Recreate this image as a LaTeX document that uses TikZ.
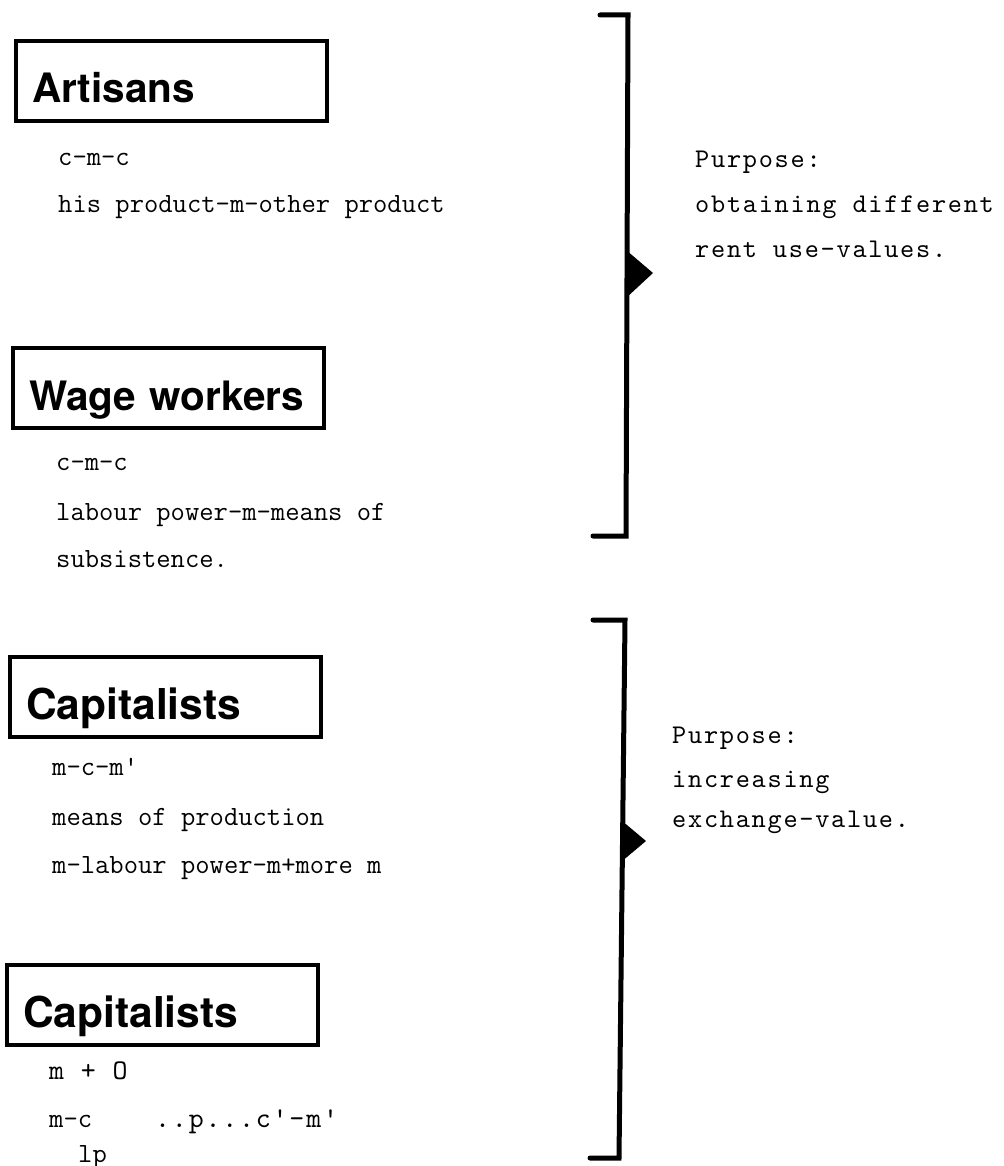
\documentclass[tikz,border=0pt]{standalone}
\usepackage{fontspec}
\usepackage{tikz}
\newfontfamily\headfont{TeX Gyre Heros}
\newfontfamily\widett{lmmono10-regular.otf}[LetterSpace=6.4]

\begin{document}
\begin{tikzpicture}[
  x=1pt, y=-1pt,
  headbox/.style={draw, line width=3.2pt, anchor=north west, outer sep=0pt,
    inner xsep=16pt, inner ysep=0pt, text width=279pt, align=left,
    text height=62pt, text depth=18pt,
    font=\headfont\bfseries\fontsize{40.5}{48}\selectfont},
  bighead/.style={font=\headfont\bfseries\fontsize{42.5}{50}\selectfont},
  body/.style={anchor=base west, inner sep=0pt,
    font=\ttfamily\fontsize{27.8}{34}\selectfont},
  widebody/.style={body, font=\widett\fontsize{28.5}{34}\selectfont},
  purpose/.style={anchor=base west, inner sep=0pt,
    font=\widett\fontsize{27}{34}\selectfont},
  bracket/.style={line width=5pt, line cap=round, line join=miter},
  pointer/.style={fill=black}
]
\useasboundingbox (0,0) rectangle (1003,1166);

% the four groups
\node[headbox] (artisans) at (16,41) {Artisans};
\node[headbox] (wage) at (13,348) {Wage workers};
\node[headbox, bighead] (capa) at (10,657) {Capitalists};
\node[headbox, bighead] (capb) at (7,965) {Capitalists};

\foreach \y/\t [count=\i] in {166/c-m-c, 213/his product-m-other product}
  \node[body] (art\i) at (58,\y) {\t};
\foreach \y/\t [count=\i] in {470/c-m-c, 520/labour power-m-means of, 567/subsistence.}
  \node[body] (wag\i) at (56,\y) {\t};
\foreach \y/\t [count=\i] in {775/m-c-m', 825/means of production, 873/m-labour power-m+more m}
  \node[body] (cpa\i) at (52,\y) {\t};

\node[widebody] (cpb1) at (49,1079) {m + O};
\node[body] (cpb2) at (49,1127) {m-c};
\node[widebody] (cpb3) at (155,1127) {..p...c'-m'};
\node[body] (cpb4) at (78,1162) {lp};

% brackets and what they point to
\draw[bracket] (600,15) -- (628,15) -- (626,536) -- (593,536);
\fill[pointer] (626,250) -- (653,273) -- (626,298) -- cycle;
\foreach \y/\t [count=\i] in {168/Purpose:, 213/obtaining different, 258/rent use-values.}
  \node[purpose] (use\i) at (695,\y) {\t};

\draw[bracket] (593,620) -- (625,620) -- (619,1158) -- (590,1158);
\fill[pointer] (621,820) -- (646,841) -- (621,862) -- cycle;
\foreach \y/\t [count=\i] in {743/Purpose:, 787/increasing, 827/exchange-value.}
  \node[purpose] (exch\i) at (672,\y) {\t};
\end{tikzpicture}
\end{document}
